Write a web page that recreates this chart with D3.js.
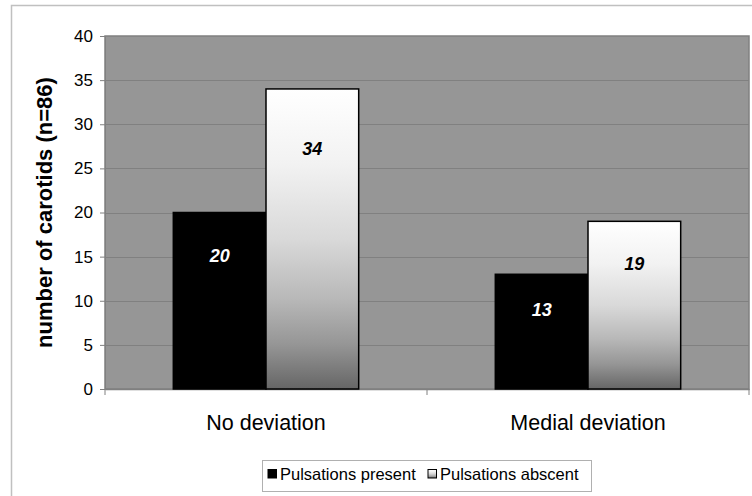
<!DOCTYPE html>
<html><head><meta charset="utf-8">
<script src="https://cdn.jsdelivr.net/npm/d3@7/dist/d3.min.js"></script>
<style>html,body{margin:0;padding:0;background:#fff;}svg{display:block;font-family:"Liberation Sans",Arial,sans-serif;}</style>
</head><body>
<script>
const categories = ["No deviation", "Medial deviation"];
const seriesNames = ["Pulsations present", "Pulsations abscent"];
const present = [20, 13];
const absent = [34, 19];
const yTicks = [0, 5, 10, 15, 20, 25, 30, 35, 40];
const yTitle = "number of carotids (n=86)";

const W = 752, H = 496;
const svg = d3.select("body").append("svg").attr("width", W).attr("height", H);
const defs = svg.append("defs");
const grad = defs.append("linearGradient").attr("id", "gw").attr("x1", 0).attr("y1", 0).attr("x2", 0).attr("y2", 1);
[[0, "#ffffff"], [0.25, "#f2f2f2"], [0.5, "#d9d9d9"], [0.7, "#b8b8b8"], [0.85, "#969696"], [1, "#666666"]]
  .forEach(([o, c]) => grad.append("stop").attr("offset", o).attr("stop-color", c));

// outer chart border
svg.append("rect").attr("x", 11.5).attr("y", 5.5).attr("width", 760).attr("height", 520)
  .attr("fill", "#fff").attr("stroke", "#c0c0c0").attr("stroke-width", 1.5);

const m = {l: 105, r: 749, t: 36, b: 389};
const x = d3.scaleBand().domain(categories).range([m.l, m.r]).paddingInner(0).paddingOuter(0);
const y = d3.scaleLinear().domain([0, 40]).range([m.b, m.t]);
const xs = d3.scaleBand().domain(seriesNames).range([0, x.bandwidth()]).paddingInner(0).paddingOuter(0.737);

// plot area
svg.append("rect").attr("x", m.l).attr("y", m.t).attr("width", m.r - m.l).attr("height", m.b - m.t)
  .attr("fill", "#969696").attr("stroke", "#808080").attr("stroke-width", 1.5);

// gridlines
svg.append("g").selectAll("line").data(yTicks.filter(t => t > 0 && t < 40)).join("line")
  .attr("x1", m.l).attr("x2", m.r).attr("y1", d => Math.round(y(d)) + 0.5).attr("y2", d => Math.round(y(d)) + 0.5)
  .attr("stroke", "#808080").attr("stroke-width", 1);

// y axis
const ya = svg.append("g").attr("transform", `translate(${m.l},0)`)
  .call(d3.axisLeft(y).tickValues(yTicks).tickSize(5).tickPadding(7));
ya.select(".domain").attr("stroke", "#808080");
ya.selectAll(".tick line").attr("stroke", "#808080");
ya.selectAll("text").attr("font-size", 17).attr("fill", "#000").attr("font-family", "Liberation Sans, Arial, sans-serif");

// x axis
const xa = svg.append("g").attr("transform", `translate(0,${m.b})`)
  .call(d3.axisBottom(x).tickSize(0).tickPadding(26));
xa.select(".domain").attr("stroke", "#808080").attr("stroke-width", 1.5);
xa.selectAll("text").attr("font-size", 21.5).attr("fill", "#000").attr("font-family", "Liberation Sans, Arial, sans-serif");
svg.append("g").selectAll("line").data([m.l, m.l + x.bandwidth(), m.r]).join("line")
  .attr("x1", d => d).attr("x2", d => d).attr("y1", m.b).attr("y2", m.b + 6).attr("stroke", "#808080");

// bars
const rows = [];
categories.forEach((c, i) => {
  rows.push({cat: c, s: seriesNames[0], v: present[i]});
  rows.push({cat: c, s: seriesNames[1], v: absent[i]});
});
const bars = svg.append("g");
bars.selectAll("rect").data(rows).join("rect")
  .attr("x", d => x(d.cat) + xs(d.s)).attr("y", d => y(d.v))
  .attr("width", xs.bandwidth()).attr("height", d => y(0) - y(d.v))
  .attr("fill", d => d.s === seriesNames[0] ? "#000" : "url(#gw)")
  .attr("stroke", "#000").attr("stroke-width", 1.5);

bars.selectAll("text").data(rows).join("text")
  .attr("x", d => x(d.cat) + xs(d.s) + xs.bandwidth() / 2)
  .attr("y", d => y(d.v) + 21 + 0.13 * (y(0) - y(d.v)))
  .attr("text-anchor", "middle").attr("dominant-baseline", "central")
  .attr("font-size", 18).attr("font-weight", "bold").attr("font-style", "italic")
  .attr("fill", d => d.s === seriesNames[0] ? "#fff" : "#000")
  .text(d => d.v);

// y title
svg.append("text").attr("transform", `translate(44,${(m.t + m.b) / 2}) rotate(-90)`)
  .attr("text-anchor", "middle").attr("dominant-baseline", "central")
  .attr("font-size", 22).attr("font-weight", "bold").text(yTitle);

// legend
const lg = svg.append("g");
lg.append("rect").attr("x", 262.5).attr("y", 460.5).attr("width", 329).attr("height", 31)
  .attr("fill", "#fff").attr("stroke", "#b0b0b0").attr("stroke-width", 1);
const items = [{name: seriesNames[0], fill: "#000", x: 268}, {name: seriesNames[1], fill: "url(#gw)", x: 428}];
items.forEach(it => {
  lg.append("rect").attr("x", it.x).attr("y", 469.5).attr("width", 8.5).attr("height", 8.5)
    .attr("fill", it.fill).attr("stroke", "#000").attr("stroke-width", 1);
  lg.append("text").attr("x", it.x + 12).attr("y", 474).attr("dominant-baseline", "central")
    .attr("font-size", 16.5).text(it.name);
});
</script>
</body></html>
